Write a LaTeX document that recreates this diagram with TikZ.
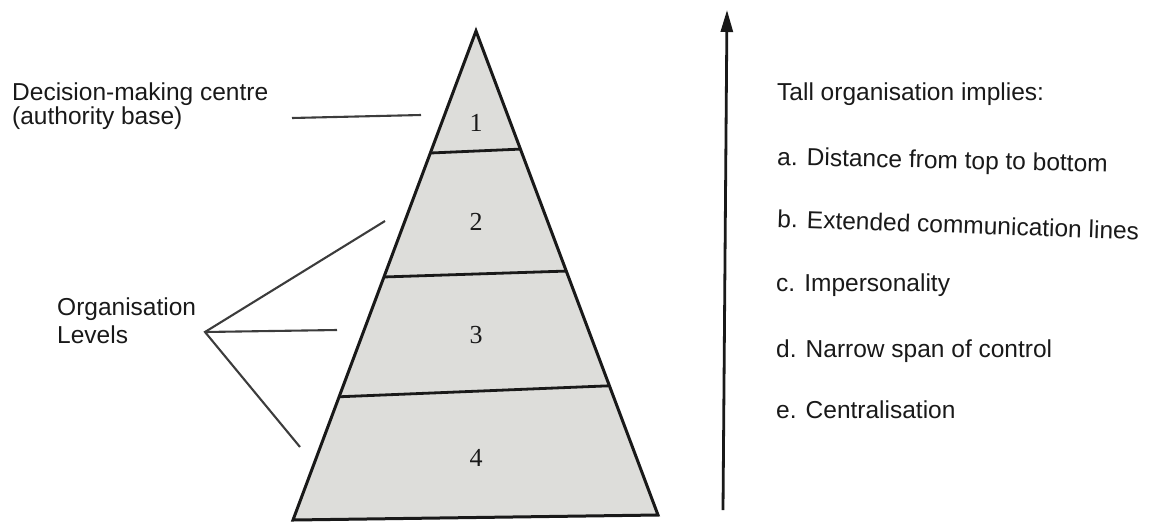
\documentclass[tikz,border=0pt]{standalone}
\usepackage{fontspec}
\setmainfont{Liberation Sans}
\newfontfamily\numfont{Liberation Serif}
\usetikzlibrary{calc,arrows.meta}
\definecolor{pyrfill}{RGB}{221,221,218}
\definecolor{ink}{RGB}{25,25,25}
\begin{document}
\begin{tikzpicture}[x=1pt,y=-1pt,
  lbl/.style={anchor=base west,inner sep=0pt,text=ink,font=\fontsize{24.5}{29}\selectfont},
  num/.style={inner sep=0pt,text=ink,font=\numfont\fontsize{26}{28}\selectfont},
  pyredge/.style={draw=ink,line width=3pt,line join=miter,fill=pyrfill},
  divline/.style={draw=ink,line width=2.8pt},
  leader/.style={draw=ink!85,line width=2.1pt}]
\useasboundingbox (0,0) rectangle (1153,523);
% pyramid
\coordinate (apex) at (476,31);
\coordinate (bl) at (293,520);
\coordinate (br) at (658,515);
\draw[pyredge] (apex) -- (bl) -- (br) -- cycle;
\coordinate (d1l) at ($(apex)!0.2495!(bl)$);
\coordinate (d1r) at ($(apex)!0.244!(br)$);
\coordinate (d2l) at ($(apex)!0.503!(bl)$);
\coordinate (d2r) at ($(apex)!0.496!(br)$);
\coordinate (d3l) at ($(apex)!0.748!(bl)$);
\coordinate (d3r) at ($(apex)!0.733!(br)$);
\draw[divline] (d1l) -- (d1r);
\draw[divline] (d2l) -- (d2r);
\draw[divline] (d3l) -- (d3r);
\node[num] (n1) at (476,123) {1};
\node[num] (n2) at (476,222) {2};
\node[num] (n3) at (476,335) {3};
\node[num] (n4) at (476,458) {4};
% left labels
\node[lbl] (dmc1) at (12,100) {Decision-making centre};
\node[lbl] (dmc2) at (12,124) {(authority base)};
\coordinate (l1a) at (292,118);
\coordinate (l1b) at (421,115);
\draw[leader] (l1a) -- (l1b);
\node[lbl] (org1) at (57,315) {Organisation};
\node[lbl] (org2) at (57,343) {Levels};
\coordinate (hub) at (205,332);
\coordinate (t2) at (385,221);
\coordinate (t3) at (337,330);
\coordinate (t4) at (300,447);
\draw[leader] (t2) -- (hub) -- (t4);
\draw[leader] (hub) -- (t3);
% arrow
\coordinate (arb) at (723,510);
\coordinate (art) at (727,10);
\draw[draw=ink,line width=2.8pt,-{Triangle[length=22pt,width=12pt]}] (arb) -- (art);
% right labels
\node[lbl] (tall) at (777,100) {Tall organisation implies:};
\node[lbl,rotate=-1.2] (ia) at (777,165) {a. Distance from top to bottom};
\node[lbl,rotate=-2] (ib) at (777,227) {b. Extended communication lines};
\node[lbl] (ic) at (776,291) {c. Impersonality};
\node[lbl] (id) at (776,357) {d. Narrow span of control};
\node[lbl] (ie) at (776,418) {e. Centralisation};
\end{tikzpicture}
\end{document}
